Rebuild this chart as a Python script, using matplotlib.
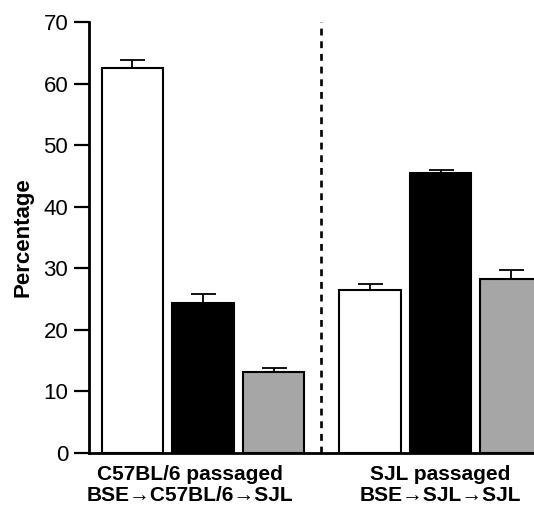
import matplotlib
matplotlib.use("Agg")
import matplotlib.pyplot as plt

plt.rcParams['font.family'] = ['Liberation Sans', 'DejaVu Sans']

# Data
group_labels = ["C57BL/6 passaged\nBSE\u2192C57BL/6\u2192SJL", "SJL passaged\nBSE\u2192SJL\u2192SJL"]
values_g1 = [62.5, 24.4, 13.2]
errors_g1 = [1.4, 1.4, 0.6]
values_g2 = [26.4, 45.4, 28.3]
errors_g2 = [1.1, 0.5, 1.4]
colors = ["white", "black", "#a6a6a6"]
yticks = [0, 10, 20, 30, 40, 50, 60, 70]

W, H = 534, 508
fig = plt.figure(figsize=(W / 100, H / 100), dpi=100)
left_px, right_px, top_px, bottom_px = 89, 534, 22, 453
ax = fig.add_axes([left_px / W, 1 - bottom_px / H, (right_px - left_px) / W, (bottom_px - top_px) / H])

pos_g1 = [0, 1, 2]
pos_g2 = [3.37, 4.37, 5.37]
bw = 0.87
for xs, vals, errs in [(pos_g1, values_g1, errors_g1), (pos_g2, values_g2, errors_g2)]:
    for x, v, e, c in zip(xs, vals, errs, colors):
        ax.bar(x, v, width=bw, color=c, edgecolor='black', linewidth=1.5, zorder=3)
        ax.errorbar(x, v, yerr=[[0], [e]], fmt='none', ecolor='black',
                    elinewidth=1.3, capsize=9, capthick=1.3, zorder=2)

ax.axvline(2.674, ymin=0, ymax=1, color='black', linewidth=1.9, dashes=(2.6, 2.2))

ax.set_xlim(-0.617, 5.695)
ax.set_ylim(0, 70)
ax.set_yticks(yticks)
ax.set_yticklabels([str(t) for t in yticks], fontsize=16)
ax.tick_params(axis='y', length=11, width=1.6, pad=4, direction='out')
ax.set_xticks([])
for s in ['top', 'right']:
    ax.spines[s].set_visible(False)
ax.spines['left'].set_linewidth(2)
ax.spines['bottom'].set_linewidth(2)

ax.set_ylabel("Percentage", fontsize=16, fontweight='bold', labelpad=7)

ax.text(0.82, -2.0, group_labels[0], ha='center', va='top', fontsize=15, fontweight='bold',
        linespacing=1.1)
ax.text(4.37, -2.0, group_labels[1], ha='center', va='top', fontsize=15, fontweight='bold',
        linespacing=1.1)

fig.savefig("out.png", dpi=100)
